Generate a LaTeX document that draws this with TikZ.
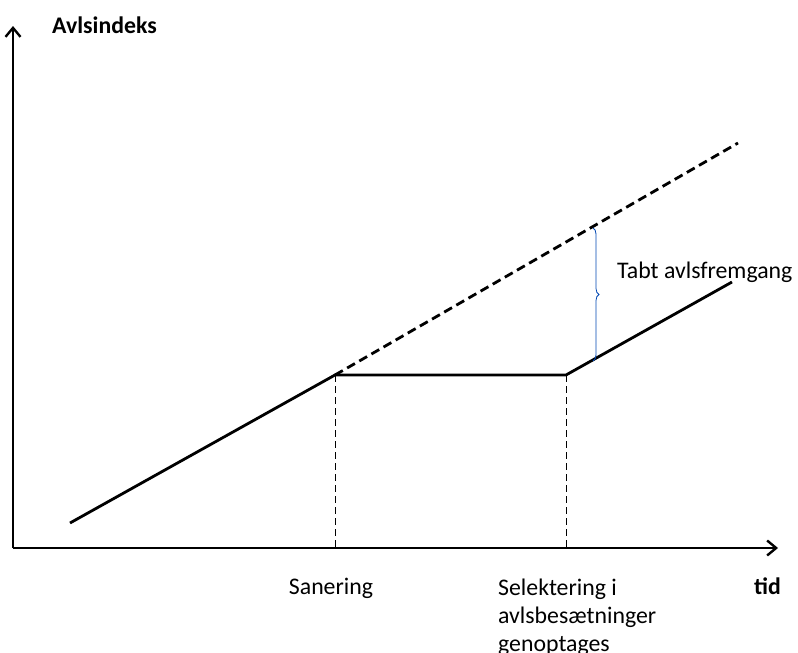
\documentclass[tikz,border=0pt]{standalone}
\usepackage{fontspec}
\setmainfont{Carlito}
\usetikzlibrary{arrows.meta,decorations.pathreplacing}
\begin{document}
\begin{tikzpicture}[x=1pt,y=-1pt,
  axis/.style={line width=2.8pt,-{Straight Barb[length=9pt,width=15pt,line width=2.4pt]}},
  curve/.style={line width=2.8pt},
  projected/.style={line width=2.8pt,dash pattern=on 9pt off 5pt},
  guide/.style={line width=0.8pt,dash pattern=on 7pt off 4pt},
  lbl/.style={font=\fontsize{23.8}{28}\selectfont,inner sep=0pt},
  blbl/.style={font=\fontsize{23.8}{28}\selectfont\bfseries,inner sep=0pt},
  brace/.style={draw=blue!60!cyan!70!black,line width=0.8pt,decorate,decoration={brace,amplitude=6pt,aspect=0.5}}]
\useasboundingbox (0,0) rectangle (798,653);
\coordinate (O) at (13,548);
\coordinate (ytip) at (13,26);
\coordinate (xtip) at (778,548);
\coordinate (s0) at (70,523);
\coordinate (san) at (335,375);
\coordinate (sel) at (566,375);
\coordinate (send) at (732,282);
\coordinate (dend) at (738,143);
\coordinate (sanb) at (335,548);
\coordinate (selb) at (566,548);
\coordinate (btop) at (593,228);
\coordinate (bbot) at (593,361);
\draw[axis] (O) -- (ytip);
\draw[axis] (O) -- (xtip);
\draw[guide] (san) -- (sanb);
\draw[guide] (sel) -- (selb);
\draw[projected] (san) -- (dend);
\draw[curve,line join=miter] (s0) -- (san) -- (sel) -- (send);
\draw[brace] (btop) -- (bbot);
\node[blbl,anchor=base west] (ya) at (52,33) {Avlsindeks};
\node[lbl,anchor=base west] (tab) at (617,278) {Tabt avlsfremgang};
\node[lbl,anchor=base] (sa) at (331,594) {Sanering};
\node[lbl,anchor=base west,align=left] (se) at (498,651) {Selektering i\\avlsbesætninger\\genoptages};
\node[blbl,anchor=base west] (td) at (754,594) {tid};
\end{tikzpicture}
\end{document}
